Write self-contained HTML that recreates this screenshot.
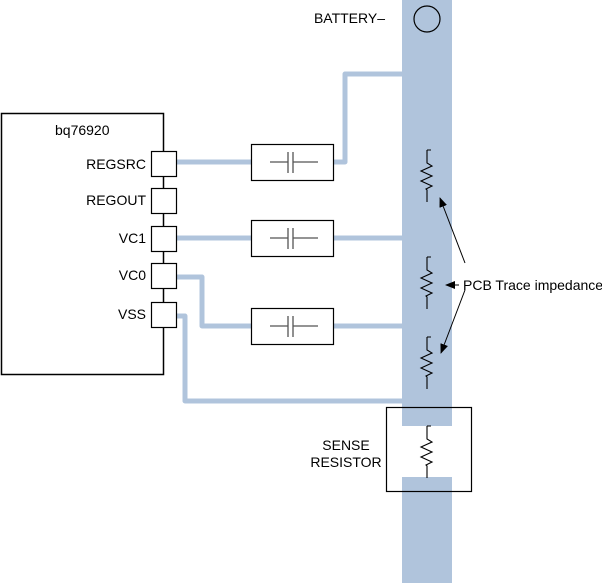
<!DOCTYPE html>
<html><head><style>
html,body{margin:0;padding:0;background:#fff;width:602px;height:583px;overflow:hidden}
text{font-family:"Liberation Sans",sans-serif;fill:#000}
</style></head><body>
<svg width="602" height="583" viewBox="0 0 602 583" xmlns="http://www.w3.org/2000/svg">
<defs>
<marker id="ah" markerWidth="10" markerHeight="8" refX="9" refY="4" orient="auto" markerUnits="userSpaceOnUse">
<path d="M0,0 L10,4 L0,8 Z" fill="#000"/></marker>
<g id="res" fill="none" stroke="#000" stroke-width="1.1">
<path d="M0,0 L0,13 L5,16 L-6,21 L5,26 L-6,31 L5,36 L-1,39 L0,40 L0,52 M0,0 L4,0"/>
</g>
</defs>
<rect x="402" y="0" width="50" height="426" fill="#b0c4dc"/>
<rect x="402" y="477" width="50" height="106" fill="#b0c4dc"/>
<circle cx="427" cy="19" r="13" fill="none" stroke="#000" stroke-width="1.2"/>
<text x="385" y="23" font-size="14" text-anchor="end">BATTERY–</text>
<g fill="none" stroke="#b0c4dc" stroke-width="5" stroke-linejoin="round">
<path d="M176,162 L252,162"/>
<path d="M332,162 L345,162 L345,74 L403,74"/>
<path d="M176,238 L252,238 M332,238 L403,238"/>
<path d="M176,277 L202,277 L202,326 L252,326 M332,326 L403,326"/>
<path d="M176,316 L185,316 L185,401 L403,401"/>
</g>
<rect x="1.5" y="113.5" width="162" height="261" fill="#fff" stroke="#000" stroke-width="1.5"/>
<text x="55" y="135" font-size="14">bq76920</text>
<g fill="#fff" stroke="#000" stroke-width="1.2">
<rect x="151.5" y="151.5" width="25" height="25"/>
<rect x="151.5" y="188.5" width="25" height="25"/>
<rect x="151.5" y="226.5" width="25" height="25"/>
<rect x="151.5" y="263.5" width="25" height="25"/>
<rect x="151.5" y="302.5" width="25" height="25"/>
</g>
<g font-size="14" text-anchor="end">
<text x="146" y="169">REGSRC</text>
<text x="146" y="205">REGOUT</text>
<text x="146" y="243">VC1</text>
<text x="146" y="280">VC0</text>
<text x="146" y="319">VSS</text>
</g>
<g id="cap">
<rect x="251.5" y="144.5" width="82" height="36" fill="#fff" stroke="#000" stroke-width="1.2"/>
<path d="M270,162 L288,162 M293,162 L318,162 M288,152 L288,173 M293,152 L293,173" stroke="#555" stroke-width="1.3" fill="none"/>
</g>
<use href="#cap" y="76"/>
<use href="#cap" y="164"/>
<use href="#res" x="427" y="150"/>
<use href="#res" x="427" y="257"/>
<use href="#res" x="427" y="337"/>
<use href="#res" x="427" y="426"/>
<g stroke="#000" stroke-width="1" fill="none" marker-end="url(#ah)">
<path d="M465,263 L440,198"/>
<path d="M459,285 L446,285"/>
<path d="M465,290 L441,353"/>
</g>
<text x="463" y="290" font-size="14">PCB Trace impedance</text>
<rect x="386.5" y="407.5" width="85" height="84" fill="none" stroke="#000" stroke-width="1.2"/>
<text x="346" y="450" font-size="14" text-anchor="middle">SENSE</text>
<text x="346" y="467" font-size="14" text-anchor="middle">RESISTOR</text>
</svg>
</body></html>
